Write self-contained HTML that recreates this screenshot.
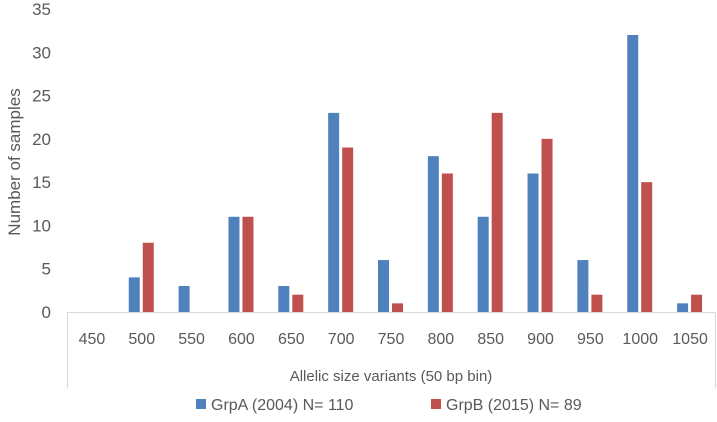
<!DOCTYPE html>
<html><head><meta charset="utf-8"><style>
body{margin:0;background:#fff;font-family:"Liberation Sans",sans-serif}
svg text{font-family:"Liberation Sans",sans-serif;fill:#595959}
</style></head><body>
<svg width="717" height="417">
<g id="axes"></g><g id="bars"></g>
<text x="0" y="0" transform="translate(20,162) rotate(-90)" text-anchor="middle" font-size="17">Number of samples</text>
<text x="391" y="381" text-anchor="middle" font-size="15">Allelic size variants (50 bp bin)</text>
<rect x="196" y="399" width="10" height="10" fill="#4f81bd"/>
<text x="211" y="410" font-size="16">GrpA (2004) N= 110</text>
<rect x="431" y="399" width="10" height="10" fill="#c0504d"/>
<text x="446" y="410" font-size="16">GrpB (2015) N= 89</text>
</svg>
<script>
const categories=["450","500","550","600","650","700","750","800","850","900","950","1000","1050"];
const grpA=[0,4,3,11,3,23,6,18,11,16,6,32,1];
const grpB=[0,8,0,11,2,19,1,16,23,20,2,15,2];
const yTicks=[0,5,10,15,20,25,30,35];
const L=67,R=715,Y0=312,Y35=9,yMax=35;
const y=v=>Y0-(Y0-Y35)*v/yMax;
const cw=(R-L)/categories.length;
const xc=i=>L+cw*(i+0.5);
const NS="http://www.w3.org/2000/svg";
const ax=document.getElementById('axes'),bg=document.getElementById('bars');
function mk(tag,attrs,parent,txt){const e=document.createElementNS(NS,tag);for(const k in attrs)e.setAttribute(k,attrs[k]);if(txt!==undefined)e.textContent=txt;parent.appendChild(e);return e;}
yTicks.forEach(t=>{const e=mk('text',{x:51,y:y(t)+6,'text-anchor':'end','font-size':'17'},ax,t);

});
const base=mk('line',{x1:L,x2:R,y1:Y0+0.5,y2:Y0+0.5,stroke:'#d9d9d9'},ax);


[L,R].forEach(x=>{const l=mk('line',{x1:x+0.5,x2:x+0.5,y1:Y0,y2:388,stroke:'#d9d9d9'},ax);

});
categories.forEach((c,i)=>{const t=mk('text',{x:xc(i),y:344,'text-anchor':'middle','font-size':'16'},ax,c);


const a=mk('rect',{x:xc(i)-13,y:y(grpA[i]),width:11,height:Y0-y(grpA[i]),fill:'#4f81bd'},bg);


const b=mk('rect',{x:xc(i)+1,y:y(grpB[i]),width:11,height:Y0-y(grpB[i]),fill:'#c0504d'},bg);

});
</script>
</body></html>
